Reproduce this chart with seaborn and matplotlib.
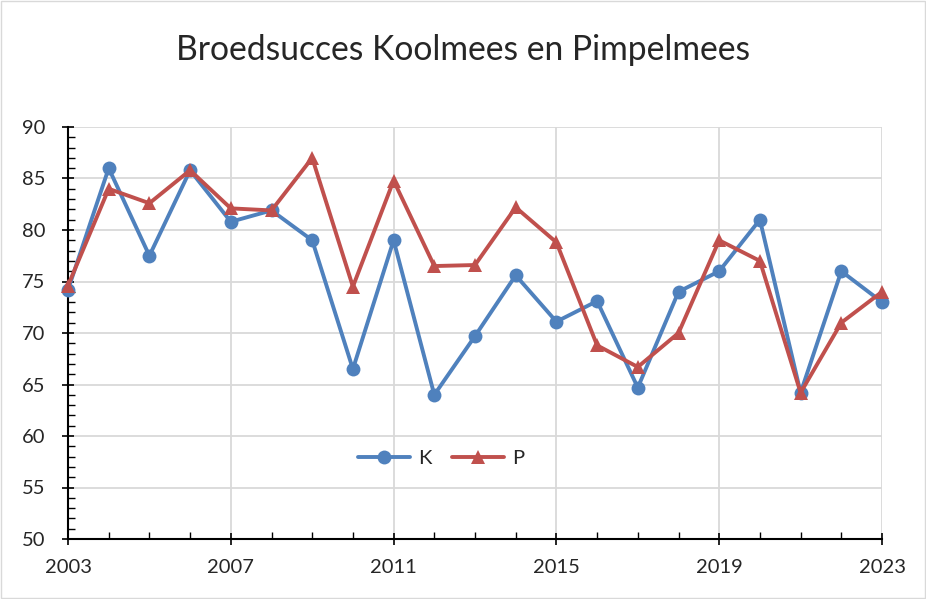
import numpy as np
import pandas as pd
import matplotlib
matplotlib.use("Agg")
import matplotlib.pyplot as plt
from matplotlib.ticker import MultipleLocator
from matplotlib.patches import Rectangle
import seaborn as sns

years = list(range(2003, 2024))
k_values = [74.2, 86.0, 77.5, 85.8, 80.8, 81.9, 79.0, 66.5, 79.0, 64.0, 69.7,
            75.6, 71.1, 73.1, 64.7, 74.0, 76.0, 81.0, 64.2, 76.0, 73.0]
p_values = [74.6, 84.0, 82.6, 85.8, 82.1, 81.9, 87.0, 74.5, 84.8, 76.5, 76.6,
            82.2, 78.8, 68.8, 66.7, 70.0, 79.0, 77.0, 64.2, 71.0, 74.0]
series_names = ["K", "P"]
title = "Broedsucces Koolmees en Pimpelmees"
x_ticks = [2003, 2007, 2011, 2015, 2019, 2023]
y_ticks = [50, 55, 60, 65, 70, 75, 80, 85, 90]

df = pd.DataFrame({
    "Jaar": years * 2,
    "Waarde": k_values + p_values,
    "Soort": ["K"] * len(years) + ["P"] * len(years),
})

sns.set_style("white")
plt.rcParams["font.family"] = ["Lato", "DejaVu Sans"]

fig = plt.figure(figsize=(9.26, 5.99), dpi=100)
ax = fig.add_axes([68 / 926, 1 - 539 / 599, 814 / 926, 412 / 599])

palette = {"K": "#4F81BD", "P": "#C0504D"}
markers = {"K": "o", "P": "^"}
sns.lineplot(data=df, x="Jaar", y="Waarde", hue="Soort", style="Soort",
             palette=palette, markers=markers, dashes=False, ax=ax,
             linewidth=2.8, markersize=10, markeredgewidth=0, zorder=3,
             clip_on=False)

ax.set_xlim(2003, 2023)
ax.set_ylim(50, 90)
ax.set_xticks(x_ticks)
ax.set_yticks(y_ticks)
ax.xaxis.set_minor_locator(MultipleLocator(1))
ax.yaxis.set_minor_locator(MultipleLocator(1))
ax.tick_params(axis="both", which="major", direction="inout", length=9,
               width=1.2, color="black", labelsize=14.5, bottom=True, left=True)
ax.tick_params(axis="y", which="major", pad=12)
ax.tick_params(axis="x", which="major", pad=10)
ax.tick_params(axis="both", which="minor", direction="in", length=5,
               width=1, color="black", bottom=True, left=True)
ax.grid(True, which="major", color="#D9D9D9", linewidth=1.3, zorder=0)
ax.set_axisbelow(True)
for s in ["top", "right"]:
    ax.spines[s].set_visible(False)
for s in ["left", "bottom"]:
    ax.spines[s].set_color("black")
    ax.spines[s].set_linewidth(1.5)
ax.set_xlabel("")
ax.set_ylabel("")

leg = ax.legend(loc="center", bbox_to_anchor=(0.458, 0.195), ncol=2, frameon=False,
                fontsize=14.5, handlelength=2.6, columnspacing=1.0, handletextpad=0.4)

fig.text(0.5, 1 - 50 / 599, title, ha="center", va="center", fontsize=24.2)
fig.patches.append(Rectangle((0.001, 0.001), 0.998, 0.998, transform=fig.transFigure,
                             fill=False, edgecolor="#D9D9D9", linewidth=1))

fig.savefig("out.png", dpi=100)
